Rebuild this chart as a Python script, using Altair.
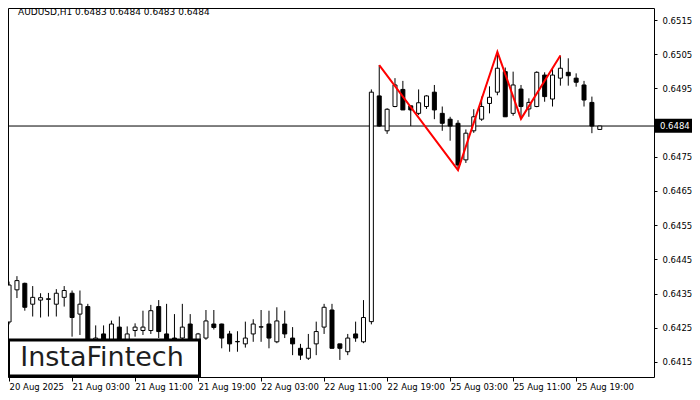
import json
import altair as alt
import pandas as pd

# ---- data (AUDUSD H1) ----
opens = [0.64267, 0.64361, 0.64380, 0.64319, 0.64331, 0.64333, 0.64319, 0.64339, 0.64351, 0.64290,
         0.64312, 0.64205, 0.64232, 0.64200, 0.64252, 0.64205, 0.64242, 0.64242, 0.64242, 0.64312,
         0.64232, 0.64220, 0.64220, 0.64261, 0.64210, 0.64220, 0.64261, 0.64261, 0.64232, 0.64209,
         0.64203, 0.64232, 0.64252, 0.64261, 0.64209, 0.64261, 0.64220, 0.64190, 0.64161, 0.64203,
         0.64252, 0.64302, 0.64203, 0.64180, 0.64232, 0.64209, 0.64268, 0.64928, 0.64826, 0.64897,
         0.64947, 0.64899, 0.64877, 0.64897, 0.64939, 0.64877, 0.64860, 0.64848, 0.64741, 0.64826,
         0.64860, 0.64906, 0.64939, 0.64999, 0.64877, 0.64948, 0.64890, 0.64897, 0.64989, 0.64919,
         0.64980, 0.64997, 0.64980, 0.64960, 0.64909, 0.64830]
highs = [0.64385, 0.64401, 0.64382, 0.64372, 0.64351, 0.64352, 0.64363, 0.64372, 0.64359, 0.64359,
         0.64320, 0.64257, 0.64257, 0.64271, 0.64283, 0.64254, 0.64263, 0.64300, 0.64317, 0.64331,
         0.64320, 0.64290, 0.64320, 0.64290, 0.64235, 0.64302, 0.64302, 0.64262, 0.64241, 0.64240,
         0.64268, 0.64275, 0.64302, 0.64300, 0.64310, 0.64300, 0.64252, 0.64203, 0.64232, 0.64268,
         0.64320, 0.64320, 0.64203, 0.64232, 0.64268, 0.64331, 0.64947, 0.65018, 0.64892, 0.64980,
         0.64972, 0.64900, 0.64947, 0.64930, 0.64960, 0.64897, 0.64867, 0.64857, 0.64830, 0.64889,
         0.64926, 0.64956, 0.65057, 0.65011, 0.64999, 0.64960, 0.64921, 0.65000, 0.64997, 0.65009,
         0.65046, 0.65038, 0.64994, 0.64972, 0.64926, 0.64840]
lows = [0.64260, 0.64337, 0.64300, 0.64283, 0.64280, 0.64283, 0.64283, 0.64312, 0.64224, 0.64229,
        0.64185, 0.64190, 0.64180, 0.64185, 0.64190, 0.64190, 0.64224, 0.64229, 0.64232, 0.64220,
        0.64180, 0.64180, 0.64190, 0.64190, 0.64190, 0.64215, 0.64245, 0.64190, 0.64180, 0.64180,
        0.64192, 0.64209, 0.64209, 0.64190, 0.64205, 0.64220, 0.64170, 0.64156, 0.64156, 0.64170,
        0.64232, 0.64190, 0.64156, 0.64170, 0.64209, 0.64205, 0.64260, 0.64838, 0.64817, 0.64895,
        0.64887, 0.64840, 0.64872, 0.64890, 0.64860, 0.64826, 0.64797, 0.64711, 0.64732, 0.64820,
        0.64855, 0.64877, 0.64930, 0.64867, 0.64870, 0.64861, 0.64867, 0.64895, 0.64911, 0.64897,
        0.64958, 0.64958, 0.64955, 0.64897, 0.64819, 0.64830]
closes = [0.64375, 0.64388, 0.64310, 0.64339, 0.64338, 0.64335, 0.64351, 0.64359, 0.64280, 0.64319,
          0.64200, 0.64220, 0.64200, 0.64261, 0.64216, 0.64232, 0.64252, 0.64252, 0.64300, 0.64239,
          0.64200, 0.64210, 0.64252, 0.64210, 0.64232, 0.64270, 0.64251, 0.64220, 0.64203, 0.64210,
          0.64220, 0.64261, 0.64253, 0.64220, 0.64270, 0.64232, 0.64203, 0.64170, 0.64190, 0.64239,
          0.64310, 0.64190, 0.64190, 0.64220, 0.64220, 0.64280, 0.64939, 0.64840, 0.64889, 0.64960,
          0.64887, 0.64887, 0.64908, 0.64928, 0.64887, 0.64848, 0.64840, 0.64726, 0.64819, 0.64867,
          0.64897, 0.64924, 0.65009, 0.64867, 0.64960, 0.64897, 0.64909, 0.64997, 0.64926, 0.64989,
          0.65009, 0.64987, 0.64968, 0.64916, 0.64840, 0.64840]

pattern_idx = [47, 57, 62, 65, 70]
pattern_price = [0.65018, 0.64711, 0.65057, 0.64861, 0.65046]

bid_price = [0.6484]
bid_label = ["0.6484"]

x_tick_idx = [0, 8, 16, 24, 32, 40, 48, 56, 64, 72]
x_tick_labels = ["20 Aug 2025", "21 Aug 03:00", "21 Aug 11:00", "21 Aug 19:00", "22 Aug 03:00",
                 "22 Aug 11:00", "22 Aug 19:00", "25 Aug 03:00", "25 Aug 11:00", "25 Aug 19:00"]
y_ticks = [0.6415, 0.6425, 0.6435, 0.6445, 0.6455, 0.6465, 0.6475, 0.6485, 0.6495, 0.6505, 0.6515]

title_text = "AUDUSD,H1  0.6483 0.6484 0.6483 0.6484"
logo_text = "InstaFintech"

# ---- tables ----
df = pd.DataFrame({"i": list(range(len(opens))), "o": opens, "h": highs, "l": lows, "c": closes})
pat = pd.DataFrame({"i": pattern_idx, "p": pattern_price})
bid = pd.DataFrame({"p": bid_price, "t": bid_label})

FONT = "DejaVu Sans"
W, H = 646, 369

xscale = alt.Scale(domain=[0.5, 0.5 + W / 8.0], nice=False, zero=False)
yscale = alt.Scale(domain=[0.641061, 0.651851], nice=False, zero=False)

label_expr = json.dumps(x_tick_labels) + "[round(datum.value/8)]"

x_axis = alt.Axis(values=x_tick_idx, labelExpr=label_expr, labelAlign="left",
                  tickSize=4, labelPadding=1, domain=False, grid=False,
                  labelFont=FONT, labelFontSize=8.5, labelColor="black",
                  tickColor="black", labelOverlap=False, labelFlush=False)
# the 0.6485 label sits under the bid-price box in the reference
y_axis = alt.Axis(orient="right", values=y_ticks, format=".4f", tickSize=3,
                  labelPadding=5, domain=False, grid=False, labelFont=FONT,
                  labelFontSize=8.5, labelColor="black", tickColor="black",
                  labelOverlap=False,
                  labelExpr="abs(datum.value - 0.6485) < 0.00001 ? '' : format(datum.value, '.4f')")


def X(field):
    return alt.X(field, scale=xscale, axis=x_axis, title=None)


def Y(field):
    return alt.Y(field, scale=yscale, axis=y_axis, title=None)


base = alt.Chart(df)

wicks = base.mark_rule(color="black", strokeWidth=1, clip=True).encode(
    x=X("i:Q"), y=Y("l:Q"), y2="h:Q")

bidline = alt.Chart(bid).mark_rule(color="black", strokeWidth=1).encode(y=Y("p:Q"))

bodies = base.mark_bar(size=4, stroke="black", strokeWidth=1, clip=True).encode(
    x=X("i:Q"),
    y=Y("o:Q"),
    y2="c:Q",
    fill=alt.condition("datum.c >= datum.o", alt.value("white"), alt.value("black")),
)

pattern = alt.Chart(pat).mark_line(color="#ff0000", strokeWidth=2).encode(
    x=X("i:Q"), y=Y("p:Q"))

logo_box = alt.Chart(bid).mark_rect(fill="white", stroke="black", strokeWidth=3).encode(
    x=alt.value(0.5), x2=alt.value(191.5), y=alt.value(332), y2=alt.value(368))
logo = alt.Chart(bid).mark_text(text=logo_text, font=FONT, fontSize=27, color="#1e1e1e",
                                align="center", baseline="middle").encode(
    x=alt.value(94), y=alt.value(350))

price_box = alt.Chart(bid).mark_rect(fill="black").transform_calculate(
    top="datum.p + 0.00021", bot="datum.p - 0.00020").encode(
    x=alt.value(647), x2=alt.value(684),
    y=Y("top:Q"), y2="bot:Q")
price_text = alt.Chart(bid).mark_text(font=FONT, fontSize=8.5, color="white", align="left",
                                      baseline="middle").encode(
    x=alt.value(652), y=Y("p:Q"), text="t:N")

title = alt.Chart(bid).mark_text(text=title_text, font=FONT, fontSize=9, color="black",
                                 align="left", baseline="middle").encode(
    x=alt.value(10), y=alt.value(4))

chart = alt.layer(wicks, bidline, bodies, pattern, logo_box, logo, price_box, price_text, title).properties(
    width=W, height=H,
    padding={"left": 0, "top": 0, "right": 38, "bottom": 15},
    autosize=alt.AutoSizeParams(type="none"),
    background="white",
).configure_view(stroke="black", strokeWidth=1)

chart.save("out.html", embed_options={"renderer": "svg", "actions": False})
